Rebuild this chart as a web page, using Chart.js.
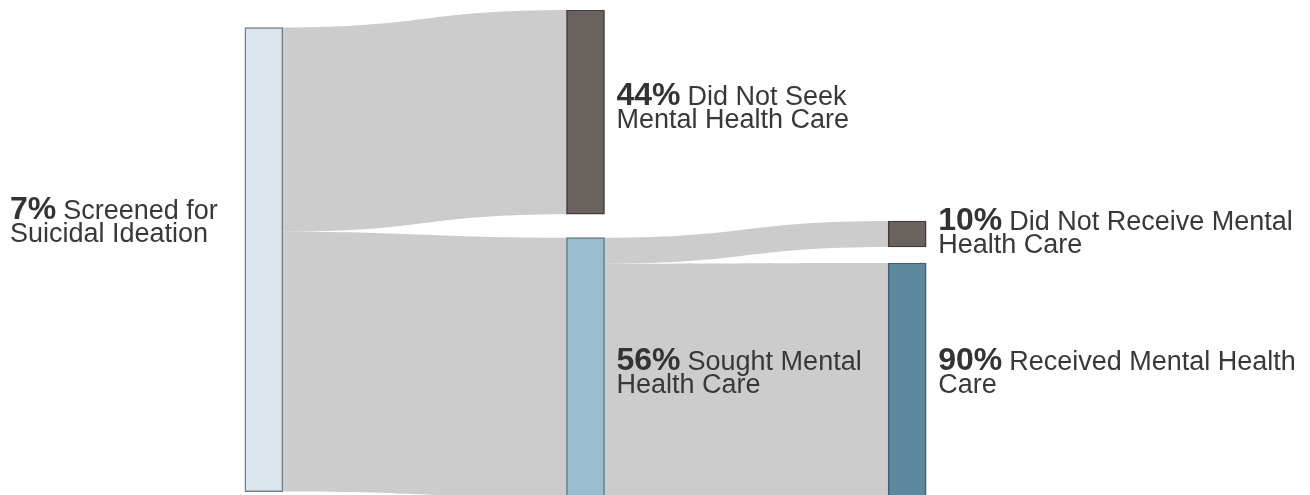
<!DOCTYPE html>
<html>
<head>
<meta charset="utf-8">
<script src="https://cdn.jsdelivr.net/npm/chart.js@4"></script>
<style>
  html, body { margin: 0; padding: 0; background: #fff; }
  #wrap { width: 1310px; height: 495px; position: relative; }
</style>
</head>
<body>
<div id="wrap"><canvas id="sankey"></canvas></div>
<script>
// percent of the parent group each node holds (root is % of all screened)
const nodePercents = [7, 44, 56, 10, 90];
const nodeLines = [
  ['Screened for', 'Suicidal Ideation'],
  ['Did Not Seek', 'Mental Health Care'],
  ['Sought Mental', 'Health Care'],
  ['Did Not Receive Mental', 'Health Care'],
  ['Received Mental Health', 'Care']
];
const nodeParent = [-1, 0, 0, 2, 2];
const nodeColumn = [0, 1, 1, 2, 2];
const columnNames = ['Screened', 'Care sought', 'Care received'];

document.addEventListener("DOMContentLoaded", () => {
  // layout (in y-units, root node = 100 units tall)
  const columnStart = [3.77, 0, 45.46];
  const columnGap = [0, 5.06, 3.45];
  const fills = ['#dbe5ee', '#6a625c', '#9bbccf', '#6a625c', '#5c889d'];
  const borders = ['#76828b', '#403b38', '#5b7c8d', '#403b38', '#3d5f70'];
  const labelDy = [-41, -7, 2, -4, -10];

  // node sizes and vertical spans
  const sizes = nodePercents.map(() => 0);
  nodePercents.forEach((p, i) => {
    sizes[i] = nodeParent[i] < 0 ? 100 : sizes[nodeParent[i]] * p / 100;
  });
  const spans = [];
  const cursor = columnStart.slice();
  nodePercents.forEach((p, i) => {
    const c = nodeColumn[i];
    spans[i] = [cursor[c], cursor[c] + sizes[i]];
    cursor[c] += sizes[i] + columnGap[c];
  });

  const datasets = nodePercents.map((p, i) => ({
    label: nodeLines[i].join(' '),
    data: columnNames.map((n, c) => c === nodeColumn[i] ? spans[i] : null),
    backgroundColor: fills[i],
    borderColor: borders[i],
    borderWidth: 1.5,
    borderSkipped: false,
    barThickness: 38,
    grouped: false
  }));

  const flowPlugin = {
    id: 'flows',
    beforeDatasetsDraw(chart) {
      const ctx = chart.ctx;
      const xs = chart.scales.x, ys = chart.scales.y;
      const half = 19;
      const outCursor = spans.map(s => s[0]);
      ctx.save();
      ctx.fillStyle = '#cccccc';
      nodePercents.forEach((p, t) => {
        const s = nodeParent[t];
        if (s < 0) return;
        const x0 = xs.getPixelForValue(nodeColumn[s]) + half - 1;
        const x1 = xs.getPixelForValue(nodeColumn[t]) - half + 1;
        const mx = (x0 + x1) / 2;
        const sy0 = ys.getPixelForValue(outCursor[s]);
        const sy1 = ys.getPixelForValue(outCursor[s] + sizes[t]);
        outCursor[s] += sizes[t];
        const ty0 = ys.getPixelForValue(spans[t][0]);
        const ty1 = ys.getPixelForValue(spans[t][1]);
        ctx.beginPath();
        ctx.moveTo(x0, sy0);
        ctx.bezierCurveTo(mx, sy0, mx, ty0, x1, ty0);
        ctx.lineTo(x1, ty1);
        ctx.bezierCurveTo(mx, ty1, mx, sy1, x0, sy1);
        ctx.closePath();
        ctx.fill();
      });
      ctx.restore();
    },
    afterDatasetsDraw(chart) {
      const ctx = chart.ctx;
      const xs = chart.scales.x, ys = chart.scales.y;
      ctx.save();
      ctx.textBaseline = 'alphabetic';
      ctx.textAlign = 'left';
      nodePercents.forEach((p, i) => {
        const cy = (ys.getPixelForValue(spans[i][0]) + ys.getPixelForValue(spans[i][1])) / 2 + labelDy[i];
        const x = i === 0 ? 10 : xs.getPixelForValue(nodeColumn[i]) + 19 + 12;
        const pct = p + '%';
        ctx.font = 'bold 32px "Liberation Sans", Arial, sans-serif';
        ctx.fillStyle = '#333333';
        ctx.fillText(pct, x, cy);
        const w = ctx.measureText(pct).width + 7;
        ctx.font = '27px "Liberation Sans", Arial, sans-serif';
        ctx.fillStyle = '#383838';
        ctx.fillText(nodeLines[i][0], x + w, cy);
        ctx.fillText(nodeLines[i][1], x, cy + 23);
      });
      ctx.restore();
    }
  };

  new Chart(document.getElementById('sankey'), {
    type: 'bar',
    data: { labels: columnNames, datasets: datasets },
    options: {
      responsive: true,
      maintainAspectRatio: false,
      animation: false,
      layout: { padding: { left: 103, right: 242, top: 10, bottom: 0 } },
      plugins: { legend: { display: false }, tooltip: { enabled: false } },
      scales: {
        x: { display: false, offset: true },
        y: { display: false, reverse: true, min: 0, max: 104.5 }
      }
    },
    plugins: [flowPlugin]
  });
});
</script>
</body>
</html>
